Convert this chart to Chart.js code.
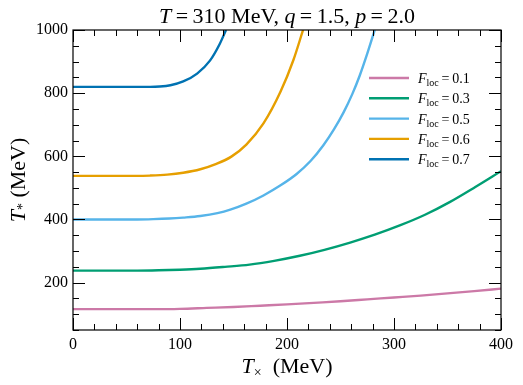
<!DOCTYPE html>
<html>
<head>
<meta charset="utf-8">
<script src="https://cdn.jsdelivr.net/npm/chart.js@4"></script>
<style>
  html, body { margin: 0; padding: 0; background: #fff; }
  #wrap { width: 523px; height: 385px; }
</style>
</head>
<body>
<div id="wrap"><canvas id="chart" width="523" height="385"></canvas></div>
<script>
// values (x in MeV, y in MeV)
const fLoc = ['0.1', '0.3', '0.5', '0.6', '0.7'];
const colors = ['#CC79A7', '#009E73', '#56B4E9', '#E69F00', '#0072B2'];

const x01 = [0, 60, 80, 100, 125, 150, 175, 200, 225, 250, 275, 300, 325, 350, 375, 400];
const y01 = [116, 116, 116, 117, 120, 123, 127, 131, 136, 141, 147, 153, 159, 166, 173, 181];

const x03 = [0, 60, 80, 100, 119, 142, 165, 188, 212, 235, 259, 282, 306, 329, 352, 376, 400];
const y03 = [238, 238, 239, 241, 244, 250, 257, 269, 285, 304, 327, 352, 382, 415, 455, 503, 553];

const x05 = [0, 60, 75, 90, 103, 119, 135, 147, 162, 178, 194, 209, 222, 234, 244, 253, 261, 268, 275, 282];
const y05 = [400, 400, 401, 403, 406, 411, 420, 431, 450, 476, 508, 544, 585, 635, 686, 740, 797, 856, 925, 1000];

const x06 = [0, 60, 72, 88, 103, 119, 134, 148, 162, 178, 194, 206, 215];
const y06 = [538, 538, 539, 542, 548, 559, 576, 599, 637, 704, 805, 905, 1000];

const x07 = [0, 60, 72, 81, 91, 103, 116, 128, 137, 143];
const y07 = [820, 820, 820, 821, 825, 837, 862, 903, 955, 1000];

const xTicks = [0, 100, 200, 300, 400];
const yTicks = [200, 400, 600, 800, 1000];

const series = [[x01, y01], [x03, y03], [x05, y05], [x06, y06], [x07, y07]];

const serif = '"Liberation Serif", "DejaVu Serif", serif';

function pts(xs, ys) {
  return xs.map((x, i) => ({ x: x, y: ys[i] }));
}

// draws a row of text pieces with their own fonts, offsets
function drawRuns(ctx, runs, x, y, align) {
  let total = 0;
  runs.forEach(r => { ctx.font = r.font; total += ctx.measureText(r.t).width; });
  let cx = align === 'center' ? x - total / 2 : x;
  runs.forEach(r => {
    ctx.font = r.font;
    ctx.fillText(r.t, cx, y + (r.dy || 0));
    cx += ctx.measureText(r.t).width;
  });
}

const decor = {
  id: 'decor',
  afterDraw(chart) {
    const ctx = chart.ctx;
    const a = chart.chartArea;
    const xs = chart.scales.x, ys = chart.scales.y;
    ctx.save();
    ctx.strokeStyle = '#000';
    ctx.lineWidth = 1.2;
    ctx.strokeRect(a.left, a.top, a.right - a.left, a.bottom - a.top);

    ctx.lineWidth = 1;
    ctx.beginPath();
    for (let v = 0; v <= 400; v += 20) {
      const p = Math.round(xs.getPixelForValue(v)) + 0.5;
      const len = v % 100 === 0 ? 12 : 6;
      ctx.moveTo(p, a.bottom); ctx.lineTo(p, a.bottom - len);
      ctx.moveTo(p, a.top); ctx.lineTo(p, a.top + len);
    }
    for (let v = 50; v <= 1000; v += 50) {
      const p = Math.round(ys.getPixelForValue(v)) + 0.5;
      const len = v % 200 === 0 ? 12 : 6;
      ctx.moveTo(a.left, p); ctx.lineTo(a.left + len, p);
      ctx.moveTo(a.right, p); ctx.lineTo(a.right - len, p);
    }
    ctx.stroke();

    ctx.fillStyle = '#000';
    ctx.textBaseline = 'alphabetic';
    const it = 'italic 22px ' + serif, rm = '22px ' + serif;
    const eq = '\u2009=\u2009';
    drawRuns(ctx, [
      { t: 'T', font: it }, { t: eq + '310 MeV, ', font: rm },
      { t: 'q', font: it }, { t: eq + '1.5, ', font: rm },
      { t: 'p', font: it }, { t: eq + '2.0', font: rm }
    ], (a.left + a.right) / 2, 23, 'center');

    drawRuns(ctx, [
      { t: 'T', font: 'italic 22px ' + serif },
      { t: '\u00d7', font: '14px ' + serif, dy: 4 },
      { t: '  (MeV)', font: '22px ' + serif }
    ], (a.left + a.right) / 2, 373, 'center');

    ctx.save();
    ctx.translate(25, (a.top + a.bottom) / 2);
    ctx.rotate(-Math.PI / 2);
    drawRuns(ctx, [
      { t: 'T', font: 'italic 22px ' + serif },
      { t: '*', font: '14px ' + serif, dy: 2 },
      { t: ' (MeV)', font: '22px ' + serif }
    ], 0, 0, 'center');
    ctx.restore();

    // legend
    for (let i = 0; i < fLoc.length; i++) {
      const ry = 78 + i * 20.3;
      ctx.strokeStyle = colors[i];
      ctx.lineWidth = 2.4;
      ctx.beginPath();
      ctx.moveTo(369, ry); ctx.lineTo(409, ry);
      ctx.stroke();
      drawRuns(ctx, [
        { t: 'F', font: 'italic 14px ' + serif },
        { t: 'loc', font: '10px ' + serif, dy: 3 },
        { t: eq + fLoc[i], font: '14px ' + serif }
      ], 418, ry + 5, 'left');
    }
    ctx.restore();
  }
};

new Chart(document.getElementById('chart'), {
  type: 'scatter',
  data: {
    datasets: series.map((s, i) => ({
      label: 'F_loc = ' + fLoc[i],
      data: pts(s[0], s[1]),
      showLine: true,
      borderColor: colors[i],
      backgroundColor: colors[i],
      borderWidth: 2.4,
      pointRadius: 0,
      cubicInterpolationMode: 'monotone'
    }))
  },
  options: {
    responsive: false,
    animation: false,
    layout: { padding: { top: 30, right: 22, left: 0, bottom: 0 } },
    plugins: { legend: { display: false }, tooltip: { enabled: false } },
    scales: {
      x: {
        type: 'linear', min: 0, max: 400,
        afterBuildTicks: s => { s.ticks = xTicks.map(v => ({ value: v })); },
        afterFit: s => { s.height = 55; },
        grid: { display: false, drawTicks: false },
        border: { display: false },
        ticks: { color: '#000', font: { family: serif, size: 16 }, padding: 5, maxRotation: 0,
                 callback: v => String(v) }
      },
      y: {
        type: 'linear', min: 50, max: 1000,
        afterBuildTicks: s => { s.ticks = yTicks.map(v => ({ value: v })); },
        afterFit: s => { s.width = 73; },
        grid: { display: false, drawTicks: false },
        border: { display: false },
        ticks: { color: '#000', font: { family: serif, size: 16 }, padding: 5,
                 callback: v => String(v) }
      }
    }
  },
  plugins: [decor]
});
</script>
</body>
</html>
